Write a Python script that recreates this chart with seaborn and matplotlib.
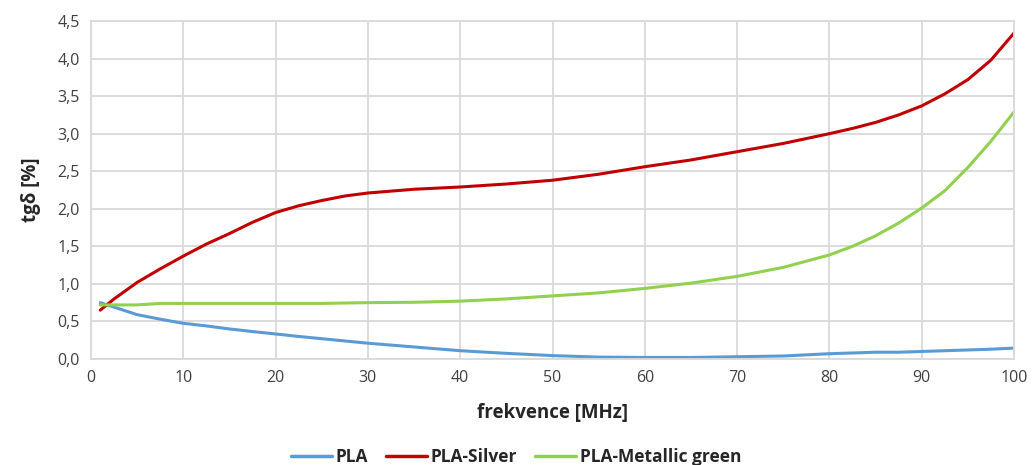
import pandas as pd
import matplotlib.pyplot as plt
import seaborn as sns
from matplotlib.ticker import FuncFormatter, MultipleLocator

# values
freq = [1, 2.5, 5, 7.5, 10, 12.5, 15, 17.5, 20, 22.5, 25, 27.5, 30, 35, 40, 45, 50, 55,
        60, 65, 70, 75, 80, 82.5, 85, 87.5, 90, 92.5, 95, 97.5, 100]
pla = [0.75, 0.69, 0.59, 0.53, 0.475, 0.44, 0.40, 0.365, 0.333, 0.30, 0.27, 0.24, 0.21,
       0.16, 0.11, 0.075, 0.045, 0.025, 0.02, 0.02, 0.03, 0.04, 0.07, 0.08, 0.09, 0.09,
       0.10, 0.11, 0.12, 0.13, 0.145]
pla_silver = [0.65, 0.80, 1.02, 1.20, 1.37, 1.53, 1.67, 1.82, 1.95, 2.04, 2.11, 2.17, 2.21,
              2.26, 2.29, 2.33, 2.38, 2.46, 2.56, 2.65, 2.76, 2.87, 3.00, 3.07, 3.15, 3.25,
              3.37, 3.53, 3.72, 3.98, 4.34]
pla_green = [0.72, 0.72, 0.72, 0.74, 0.74, 0.74, 0.74, 0.74, 0.74, 0.74, 0.74, 0.745, 0.75,
             0.755, 0.77, 0.80, 0.84, 0.88, 0.94, 1.01, 1.10, 1.22, 1.385, 1.50, 1.64, 1.81,
             2.01, 2.24, 2.55, 2.90, 3.29]

series = ["PLA", "PLA-Silver", "PLA-Metallic green"]
colors = ["#5B9BD5", "#C00000", "#92D050"]

df = pd.DataFrame({
    "f": freq * 3,
    "tg": pla + pla_silver + pla_green,
    "material": [series[0]] * len(freq) + [series[1]] * len(freq) + [series[2]] * len(freq),
})

sns.set_style("white")
plt.rcParams['font.family'] = ['Open Sans', 'DejaVu Sans']

fig = plt.figure(figsize=(10.32, 4.65), dpi=100)
ax = fig.add_axes([0.0882, 0.228, 0.8944, 0.7268])

sns.lineplot(data=df, x="f", y="tg", hue="material", hue_order=series,
             palette=colors, linewidth=2.2, ax=ax, legend=False)

ax.set_xlim(0, 100)
ax.set_ylim(0, 4.5)
ax.xaxis.set_major_locator(MultipleLocator(10))
ax.yaxis.set_major_locator(MultipleLocator(0.5))
ax.yaxis.set_major_formatter(FuncFormatter(lambda v, p: f"{v:.1f}".replace(".", ",")))
ax.grid(True, color="#D9D9D9", linewidth=1.3)
ax.set_axisbelow(True)
for s in ax.spines.values():
    s.set_color("#D9D9D9")
    s.set_linewidth(1.3)
ax.tick_params(axis="both", labelsize=11.5, colors="#404040", length=0, pad=8)

ax.set_xlabel("frekvence [MHz]", fontsize=13.5, fontweight="bold", labelpad=12)
ax.set_ylabel("tgδ [%]", fontsize=13.5, fontweight="bold", labelpad=12)

handles = [plt.Line2D([], [], color=c, linewidth=2.5) for c in colors]
fig.legend(handles, series, loc="lower center", bbox_to_anchor=(0.5, -0.035), ncol=3,
           frameon=False, handlelength=2.4, handletextpad=0.2, columnspacing=1.0,
           prop={"size": 12.5, "weight": "bold"})

fig.savefig("out.png", dpi=100)
